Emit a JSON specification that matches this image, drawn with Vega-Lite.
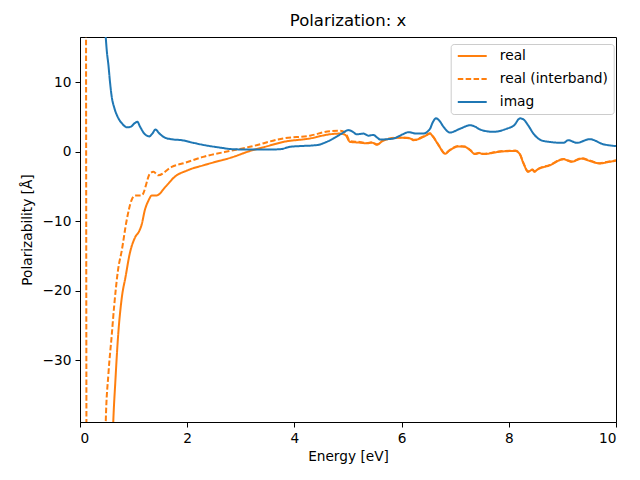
{
  "$schema": "https://vega.github.io/schema/vega-lite/v6.json",
  "autosize": {"type": "none"},
  "width": 536,
  "height": 385,
  "padding": {"left": 80, "top": 37, "right": 24, "bottom": 58},
  "background": "white",
  "config": {
    "font": "DejaVu Sans",
    "view": {"stroke": "black", "strokeWidth": 1},
    "axis": {
      "grid": false,
      "domainColor": "black",
      "domainWidth": 1,
      "tickColor": "black",
      "tickWidth": 1,
      "tickSize": 5,
      "labelPadding": 4,
      "labelFont": "DejaVu Sans",
      "labelFontSize": 13.7,
      "labelColor": "black",
      "titleFont": "DejaVu Sans",
      "titleFontSize": 13.7,
      "titleFontWeight": "normal",
      "titleColor": "black"
    },
    "legend": {
      "title": null,
      "orient": "none",
      "legendX": 370.7,
      "legendY": 7,
      "fillColor": "white",
      "strokeColor": "#cccccc",
      "cornerRadius": 3,
      "padding": 5,
      "symbolType": "M-1,0H5",
      "symbolSize": 93,
      "symbolStrokeWidth": 2,
      "labelFont": "DejaVu Sans",
      "labelFontSize": 13.8,
      "labelColor": "black",
      "labelOffset": 30.3,
      "rowPadding": 8
    },
    "title": {"font": "DejaVu Sans", "fontSize": 16.5, "fontWeight": "normal", "color": "black", "offset": 8}
  },
  "title": {"text": "Polarization: x"},
  "data": {
    "values": [
      {"e": 0.55, "v": -60, "s": "real"},
      {"e": 0.62, "v": -39, "s": "real"},
      {"e": 0.66, "v": -33, "s": "real"},
      {"e": 0.71, "v": -26.6, "s": "real"},
      {"e": 0.78, "v": -21, "s": "real"},
      {"e": 0.85, "v": -18, "s": "real"},
      {"e": 0.93, "v": -14.6, "s": "real"},
      {"e": 1.03, "v": -12.3, "s": "real"},
      {"e": 1.10, "v": -11.5, "s": "real"},
      {"e": 1.15, "v": -10.5, "s": "real"},
      {"e": 1.21, "v": -8.4, "s": "real"},
      {"e": 1.28, "v": -7.0, "s": "real"},
      {"e": 1.34, "v": -6.3, "s": "real"},
      {"e": 1.43, "v": -6.3, "s": "real"},
      {"e": 1.59, "v": -5.1, "s": "real"},
      {"e": 1.77, "v": -3.6, "s": "real"},
      {"e": 2.0, "v": -2.7, "s": "real"},
      {"e": 2.33, "v": -1.9, "s": "real"},
      {"e": 2.86, "v": -0.75, "s": "real"},
      {"e": 3.17, "v": 0.1, "s": "real"},
      {"e": 3.5, "v": 0.8, "s": "real"},
      {"e": 3.79, "v": 1.4, "s": "real"},
      {"e": 4.29, "v": 1.9, "s": "real"},
      {"e": 4.66, "v": 2.5, "s": "real"},
      {"e": 4.85, "v": 2.6, "s": "real"},
      {"e": 4.95, "v": 2.4, "s": "real"},
      {"e": 5.04, "v": 1.4, "s": "real"},
      {"e": 5.22, "v": 1.3, "s": "real"},
      {"e": 5.35, "v": 1.2, "s": "real"},
      {"e": 5.45, "v": 1.3, "s": "real"},
      {"e": 5.54, "v": 1.0, "s": "real"},
      {"e": 5.66, "v": 1.6, "s": "real"},
      {"e": 5.97, "v": 2.0, "s": "real"},
      {"e": 6.16, "v": 1.9, "s": "real"},
      {"e": 6.22, "v": 1.65, "s": "real"},
      {"e": 6.45, "v": 2.3, "s": "real"},
      {"e": 6.53, "v": 2.6, "s": "real"},
      {"e": 6.59, "v": 2.1, "s": "real"},
      {"e": 6.70, "v": 0.8, "s": "real"},
      {"e": 6.81, "v": -0.3, "s": "real"},
      {"e": 6.90, "v": 0.2, "s": "real"},
      {"e": 7.06, "v": 0.75, "s": "real"},
      {"e": 7.18, "v": 0.7, "s": "real"},
      {"e": 7.28, "v": 0.2, "s": "real"},
      {"e": 7.37, "v": -0.35, "s": "real"},
      {"e": 7.45, "v": -0.2, "s": "real"},
      {"e": 7.52, "v": -0.35, "s": "real"},
      {"e": 7.84, "v": 0.0, "s": "real"},
      {"e": 8.12, "v": 0.1, "s": "real"},
      {"e": 8.20, "v": -0.3, "s": "real"},
      {"e": 8.28, "v": -1.8, "s": "real"},
      {"e": 8.36, "v": -2.9, "s": "real"},
      {"e": 8.44, "v": -2.6, "s": "real"},
      {"e": 8.48, "v": -2.9, "s": "real"},
      {"e": 8.52, "v": -2.65, "s": "real"},
      {"e": 8.77, "v": -1.95, "s": "real"},
      {"e": 9.02, "v": -1.1, "s": "real"},
      {"e": 9.17, "v": -1.45, "s": "real"},
      {"e": 9.36, "v": -1.0, "s": "real"},
      {"e": 9.50, "v": -1.3, "s": "real"},
      {"e": 9.70, "v": -1.7, "s": "real"},
      {"e": 9.85, "v": -1.5, "s": "real"},
      {"e": 10.0, "v": -1.3, "s": "real"},

      {"e": 0.11, "v": 40, "s": "real (interband)"},
      {"e": 0.13, "v": -80, "s": "real (interband)"},
      {"e": 0.30, "v": -150, "s": "real (interband)"},
      {"e": 0.45, "v": -55, "s": "real (interband)"},
      {"e": 0.48, "v": -39, "s": "real (interband)"},
      {"e": 0.53, "v": -32, "s": "real (interband)"},
      {"e": 0.59, "v": -26.6, "s": "real (interband)"},
      {"e": 0.64, "v": -22, "s": "real (interband)"},
      {"e": 0.71, "v": -17, "s": "real (interband)"},
      {"e": 0.78, "v": -14.2, "s": "real (interband)"},
      {"e": 0.87, "v": -9.9, "s": "real (interband)"},
      {"e": 0.96, "v": -7.0, "s": "real (interband)"},
      {"e": 1.03, "v": -6.3, "s": "real (interband)"},
      {"e": 1.15, "v": -6.3, "s": "real (interband)"},
      {"e": 1.31, "v": -3.1, "s": "real (interband)"},
      {"e": 1.37, "v": -2.9, "s": "real (interband)"},
      {"e": 1.46, "v": -3.4, "s": "real (interband)"},
      {"e": 1.71, "v": -2.2, "s": "real (interband)"},
      {"e": 1.96, "v": -1.6, "s": "real (interband)"},
      {"e": 2.30, "v": -0.75, "s": "real (interband)"},
      {"e": 2.86, "v": 0.2, "s": "real (interband)"},
      {"e": 3.17, "v": 0.7, "s": "real (interband)"},
      {"e": 3.79, "v": 1.9, "s": "real (interband)"},
      {"e": 4.29, "v": 2.3, "s": "real (interband)"},
      {"e": 4.66, "v": 2.95, "s": "real (interband)"},
      {"e": 4.85, "v": 3.0, "s": "real (interband)"},
      {"e": 4.95, "v": 2.7, "s": "real (interband)"},
      {"e": 5.04, "v": 1.5, "s": "real (interband)"},
      {"e": 5.22, "v": 1.4, "s": "real (interband)"},
      {"e": 5.35, "v": 1.25, "s": "real (interband)"},
      {"e": 5.45, "v": 1.35, "s": "real (interband)"},
      {"e": 5.54, "v": 1.05, "s": "real (interband)"},
      {"e": 5.66, "v": 1.65, "s": "real (interband)"},
      {"e": 5.97, "v": 2.05, "s": "real (interband)"},
      {"e": 6.16, "v": 1.95, "s": "real (interband)"},
      {"e": 6.22, "v": 1.7, "s": "real (interband)"},
      {"e": 6.45, "v": 2.35, "s": "real (interband)"},
      {"e": 6.53, "v": 2.65, "s": "real (interband)"},
      {"e": 6.59, "v": 2.15, "s": "real (interband)"},
      {"e": 6.70, "v": 0.85, "s": "real (interband)"},
      {"e": 6.81, "v": -0.25, "s": "real (interband)"},
      {"e": 6.90, "v": 0.25, "s": "real (interband)"},
      {"e": 7.06, "v": 0.8, "s": "real (interband)"},
      {"e": 7.18, "v": 0.75, "s": "real (interband)"},
      {"e": 7.28, "v": 0.25, "s": "real (interband)"},
      {"e": 7.37, "v": -0.3, "s": "real (interband)"},
      {"e": 7.45, "v": -0.15, "s": "real (interband)"},
      {"e": 7.52, "v": -0.3, "s": "real (interband)"},
      {"e": 7.84, "v": 0.05, "s": "real (interband)"},
      {"e": 8.12, "v": 0.15, "s": "real (interband)"},
      {"e": 8.20, "v": -0.25, "s": "real (interband)"},
      {"e": 8.28, "v": -1.75, "s": "real (interband)"},
      {"e": 8.36, "v": -2.85, "s": "real (interband)"},
      {"e": 8.44, "v": -2.55, "s": "real (interband)"},
      {"e": 8.48, "v": -2.85, "s": "real (interband)"},
      {"e": 8.52, "v": -2.6, "s": "real (interband)"},
      {"e": 8.77, "v": -1.9, "s": "real (interband)"},
      {"e": 9.02, "v": -1.05, "s": "real (interband)"},
      {"e": 9.17, "v": -1.4, "s": "real (interband)"},
      {"e": 9.36, "v": -0.95, "s": "real (interband)"},
      {"e": 9.50, "v": -1.25, "s": "real (interband)"},
      {"e": 9.70, "v": -1.65, "s": "real (interband)"},
      {"e": 9.85, "v": -1.45, "s": "real (interband)"},
      {"e": 10.0, "v": -1.25, "s": "real (interband)"},

      {"e": 0.45, "v": 20, "s": "imag"},
      {"e": 0.48, "v": 16.5, "s": "imag"},
      {"e": 0.50, "v": 14.5, "s": "imag"},
      {"e": 0.53, "v": 12.5, "s": "imag"},
      {"e": 0.56, "v": 10, "s": "imag"},
      {"e": 0.59, "v": 8.0, "s": "imag"},
      {"e": 0.64, "v": 6.3, "s": "imag"},
      {"e": 0.71, "v": 4.9, "s": "imag"},
      {"e": 0.79, "v": 4.0, "s": "imag"},
      {"e": 0.88, "v": 3.5, "s": "imag"},
      {"e": 0.95, "v": 3.6, "s": "imag"},
      {"e": 1.02, "v": 4.1, "s": "imag"},
      {"e": 1.07, "v": 4.3, "s": "imag"},
      {"e": 1.12, "v": 3.6, "s": "imag"},
      {"e": 1.20, "v": 2.6, "s": "imag"},
      {"e": 1.29, "v": 2.2, "s": "imag"},
      {"e": 1.35, "v": 2.6, "s": "imag"},
      {"e": 1.41, "v": 3.2, "s": "imag"},
      {"e": 1.47, "v": 2.7, "s": "imag"},
      {"e": 1.59, "v": 2.0, "s": "imag"},
      {"e": 1.75, "v": 1.75, "s": "imag"},
      {"e": 1.90, "v": 1.65, "s": "imag"},
      {"e": 2.10, "v": 1.3, "s": "imag"},
      {"e": 2.33, "v": 0.93, "s": "imag"},
      {"e": 2.6, "v": 0.6, "s": "imag"},
      {"e": 2.86, "v": 0.35, "s": "imag"},
      {"e": 3.2, "v": 0.3, "s": "imag"},
      {"e": 3.5, "v": 0.3, "s": "imag"},
      {"e": 3.73, "v": 0.35, "s": "imag"},
      {"e": 3.92, "v": 0.7, "s": "imag"},
      {"e": 4.1, "v": 0.8, "s": "imag"},
      {"e": 4.42, "v": 0.95, "s": "imag"},
      {"e": 4.6, "v": 1.4, "s": "imag"},
      {"e": 4.73, "v": 1.9, "s": "imag"},
      {"e": 4.88, "v": 2.6, "s": "imag"},
      {"e": 5.01, "v": 3.1, "s": "imag"},
      {"e": 5.1, "v": 2.8, "s": "imag"},
      {"e": 5.16, "v": 2.5, "s": "imag"},
      {"e": 5.29, "v": 2.6, "s": "imag"},
      {"e": 5.38, "v": 2.3, "s": "imag"},
      {"e": 5.47, "v": 2.4, "s": "imag"},
      {"e": 5.55, "v": 2.0, "s": "imag"},
      {"e": 5.60, "v": 1.75, "s": "imag"},
      {"e": 5.85, "v": 1.9, "s": "imag"},
      {"e": 5.97, "v": 2.3, "s": "imag"},
      {"e": 6.13, "v": 2.8, "s": "imag"},
      {"e": 6.28, "v": 2.6, "s": "imag"},
      {"e": 6.40, "v": 2.6, "s": "imag"},
      {"e": 6.53, "v": 3.3, "s": "imag"},
      {"e": 6.58, "v": 4.2, "s": "imag"},
      {"e": 6.64, "v": 4.8, "s": "imag"},
      {"e": 6.70, "v": 4.5, "s": "imag"},
      {"e": 6.78, "v": 3.6, "s": "imag"},
      {"e": 6.90, "v": 2.75, "s": "imag"},
      {"e": 7.09, "v": 3.3, "s": "imag"},
      {"e": 7.28, "v": 3.8, "s": "imag"},
      {"e": 7.37, "v": 3.6, "s": "imag"},
      {"e": 7.46, "v": 3.2, "s": "imag"},
      {"e": 7.71, "v": 2.85, "s": "imag"},
      {"e": 7.96, "v": 3.3, "s": "imag"},
      {"e": 8.10, "v": 3.8, "s": "imag"},
      {"e": 8.21, "v": 4.8, "s": "imag"},
      {"e": 8.28, "v": 4.6, "s": "imag"},
      {"e": 8.36, "v": 3.8, "s": "imag"},
      {"e": 8.46, "v": 2.6, "s": "imag"},
      {"e": 8.64, "v": 1.55, "s": "imag"},
      {"e": 9.02, "v": 1.27, "s": "imag"},
      {"e": 9.11, "v": 1.65, "s": "imag"},
      {"e": 9.27, "v": 1.27, "s": "imag"},
      {"e": 9.51, "v": 1.8, "s": "imag"},
      {"e": 9.76, "v": 1.08, "s": "imag"},
      {"e": 10.0, "v": 0.8, "s": "imag"}
    ]
  },
  "mark": {"type": "line", "strokeWidth": 2, "clip": true, "interpolate": "monotone"},
  "encoding": {
    "x": {
      "field": "e", "type": "quantitative",
      "scale": {"domain": [0, 10], "nice": false, "zero": false},
      "axis": {"values": [0, 2, 4, 6, 8, 10], "title": "Energy [eV]", "titlePadding": 5}
    },
    "y": {
      "field": "v", "type": "quantitative",
      "scale": {"domain": [-38.9, 16.5], "nice": false, "zero": false},
      "axis": {"values": [-30, -20, -10, 0, 10], "title": "Polarizability [Å]", "titlePadding": 8}
    },
    "color": {
      "field": "s", "type": "nominal",
      "scale": {"domain": ["real", "real (interband)", "imag"], "range": ["#ff7f0e", "#ff7f0e", "#1f77b4"]}
    },
    "strokeDash": {
      "field": "s", "type": "nominal",
      "scale": {"domain": ["real", "real (interband)", "imag"], "range": [[1, 0], [5.5, 2.4], [1, 0]]}
    }
  }
}
